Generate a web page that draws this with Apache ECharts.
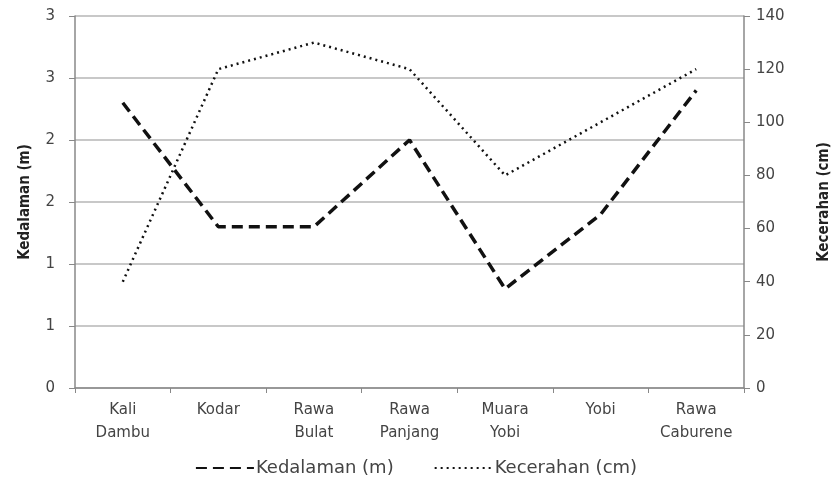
<!DOCTYPE html>
<html>
<head>
<meta charset="utf-8">
<script src="https://cdn.jsdelivr.net/npm/echarts@6/dist/echarts.min.js"></script>
<style>
  html, body { margin: 0; padding: 0; background: #fff; }
  #chart { width: 832px; height: 488px; }
</style>
</head>
<body>
<div id="chart"></div>
<script>
var lokasi = ['Kali\nDambu', 'Kodar', 'Rawa\nBulat', 'Rawa\nPanjang', 'Muara\nYobi', 'Yobi', 'Rawa\nCaburene'];
var kedalaman = [2.3, 1.3, 1.3, 2.0, 0.8, 1.4, 2.4];
var kecerahan = [40, 120, 130, 120, 80, 100, 120];

var font = '"DejaVu Sans", sans-serif';
var nameFont = '"Liberation Sans Narrow", "DejaVu Sans Condensed", sans-serif';
var myChart = echarts.init(document.getElementById('chart'));
myChart.setOption({
    animation: false,
    backgroundColor: '#fff',
    grid: { left: 75, right: 88, top: 16, bottom: 100, containLabel: false, outerBoundsMode: 'none' },
    legend: {
        bottom: 6,
        left: 'center',
        itemWidth: 58,
        itemHeight: 10,
        itemGap: 40,
        itemStyle: { opacity: 0 },
        textStyle: { fontFamily: font, fontSize: 18, color: '#444', padding: [0, 0, 0, -3] },
        data: ['Kedalaman (m)', 'Kecerahan (cm)']
    },
    xAxis: {
        type: 'category',
        data: lokasi,
        boundaryGap: true,
        axisLine: { lineStyle: { color: '#888', width: 1.5 } },
        axisTick: { show: true, length: 5, lineStyle: { color: '#888' } },
        axisLabel: { fontFamily: font, fontSize: 15, color: '#444', margin: 11, lineHeight: 23, interval: 0 }
    },
    yAxis: [
        {
            type: 'value',
            min: 0, max: 3, interval: 0.5,
            name: 'Kedalaman (m)',
            nameLocation: 'middle',
            nameGap: 42,
            nameTextStyle: { fontFamily: nameFont, fontWeight: 'bold', fontSize: 15, color: '#222' },
            axisLine: { show: true, lineStyle: { color: '#888', width: 1.5 } },
            axisTick: { show: true, length: 6, lineStyle: { color: '#888' } },
            axisLabel: { fontFamily: font, fontSize: 15, color: '#444', margin: 20, formatter: function (v) { return Math.round(v); } },
            splitLine: { show: true, lineStyle: { color: '#c8c8c8', width: 2 } }
        },
        {
            type: 'value',
            min: 0, max: 140, interval: 20,
            name: 'Kecerahan (cm)',
            nameLocation: 'middle',
            nameGap: 73,
            nameRotate: 90,
            nameTextStyle: { fontFamily: nameFont, fontWeight: 'bold', fontSize: 15, color: '#222' },
            axisLine: { show: true, lineStyle: { color: '#888', width: 1.5 } },
            axisTick: { show: true, length: 6, lineStyle: { color: '#888' } },
            axisLabel: { fontFamily: font, fontSize: 15, color: '#444', margin: 12 },
            splitLine: { show: false }
        }
    ],
    series: [
        {
            name: 'Kedalaman (m)',
            type: 'line',
            yAxisIndex: 0,
            data: kedalaman,
            symbol: 'none',
            itemStyle: { color: '#111' },
            lineStyle: { color: '#111', width: 3.5, type: [11, 6] }
        },
        {
            name: 'Kecerahan (cm)',
            type: 'line',
            yAxisIndex: 1,
            data: kecerahan,
            symbol: 'none',
            itemStyle: { color: '#111' },
            lineStyle: { color: '#111', width: 2.5, type: [2, 4] }
        }
    ]
});
</script>
</body>
</html>
